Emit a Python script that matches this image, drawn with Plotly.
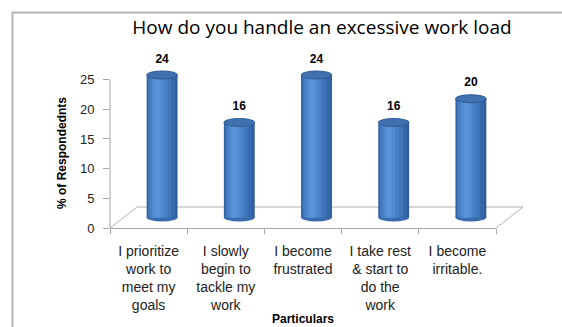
import plotly.graph_objects as go

# ---- data ----
categories = [
    "I prioritize<br>work to<br>meet my<br>goals",
    "I slowly<br>begin to<br>tackle my<br>work",
    "I become<br>frustrated",
    "I take rest<br>& start to<br>do the<br>work",
    "I become<br>irritable.",
]
values = [24, 16, 24, 16, 20]
y_ticks = [0, 5, 10, 15, 20, 25]

title_text = "How do you handle an excessive work load"
y_title = "% of Respondednts"
x_title = "Particulars"

# ---- layout geometry ----
W, H = 562, 327
L, R, T, B = 110, 66, 38, 99
PW, PH = W - L - R, H - T - B
YMAX = 32.0
n = len(categories)
cat_px = PW / n
unit_px = PH / YMAX
# 3D depth (full floor depth) in px
DEPTH_X, DEPTH_Y = 27, 21
# bars sit at half depth
dx = (DEPTH_X / 2) / cat_px
dy = (DEPTH_Y / 2) / unit_px

FONT = "Liberation Sans, Arial, sans-serif"
xs = list(range(n))

fig = go.Figure()

# cylinder bodies: layered bars for shading
BW = 0.40
layers = [
    (BW, 0.0, "#2f5d9a"),
    (0.36, -0.01, "#3669ab"),
    (0.30, -0.03, "#3f75b9"),
    (0.23, -0.045, "#4880c6"),
    (0.15, -0.055, "#518ad0"),
    (0.07, -0.06, "#5b93d8"),
]
for w, shift, col in layers:
    fig.add_trace(go.Bar(
        x=xs, y=values, xaxis="x2", yaxis="y2",
        width=[w] * n, offset=[-w / 2 + shift] * n,
        marker=dict(color=col, line=dict(width=0)),
        cliponaxis=False, showlegend=False, hoverinfo="skip",
    ))

# value labels
fig.add_trace(go.Scatter(
    x=xs, y=[v + 1.6 for v in values], xaxis="x2", yaxis="y2",
    mode="text", text=[str(v) for v in values], textposition="top center",
    textfont=dict(family=FONT, size=12, color="#000000", weight="bold"),
    cliponaxis=False, showlegend=False, hoverinfo="skip",
))

# a dummy trace on the main axes so category axis exists
fig.add_trace(go.Scatter(x=categories, y=[None] * n, mode="markers",
                         showlegend=False, hoverinfo="skip"))

shapes = []
cap_h = 4.0 / unit_px  # half height of ellipse in data units
for i, v in enumerate(values):
    # bottom ellipse (below bars)
    shapes.append(dict(type="circle", xref="x2", yref="y2", layer="below",
                       x0=i - BW / 2, x1=i + BW / 2, y0=-cap_h, y1=cap_h,
                       fillcolor="#3a6cae", line=dict(width=0)))
    # top ellipse
    shapes.append(dict(type="circle", xref="x2", yref="y2", layer="above",
                       x0=i - BW / 2, x1=i + BW / 2, y0=v - cap_h, y1=v + cap_h,
                       fillcolor="#4070b0", line=dict(color="#2f5c98", width=1)))

# floor (3D base)
ax = DEPTH_X / PW
ay = DEPTH_Y / PH
shapes.append(dict(type="path", xref="paper", yref="paper", layer="below",
                   path=f"M 0 0 L {ax} {ay} L {1 + ax} {ay} L 1 0",
                   line=dict(color="#b0b0b0", width=1)))
# y axis line (0..25)
shapes.append(dict(type="line", xref="paper", yref="y", layer="below",
                   x0=0, x1=0, y0=y_ticks[0], y1=y_ticks[-1],
                   line=dict(color="#a6a6a6", width=1)))
# chart outer border
shapes.append(dict(type="rect", xref="paper", yref="paper", layer="below",
                   x0=(12.5 - L) / PW, x1=(W + 20 - L) / PW,
                   y0=-(B + 20) / PH, y1=(H - B - 12.5) / PH,
                   line=dict(color="#b3b3b3", width=2), fillcolor="rgba(0,0,0,0)"))

annotations = [
    dict(text=y_title, xref="paper", yref="paper",
         x=(62 - L) / PW, y=(H - B - 153) / PH, textangle=-90, showarrow=False,
         font=dict(family=FONT, size=12, color="#000000", weight="bold"),
         xanchor="center", yanchor="middle"),
    dict(text=x_title, xref="paper", yref="paper",
         x=0.5, y=(H - B - 319) / PH, showarrow=False,
         font=dict(family=FONT, size=12, color="#000000", weight="bold"),
         xanchor="center", yanchor="middle"),
]

fig.update_layout(
    width=W, height=H,
    margin=dict(l=L, r=R, t=T, b=B),
    paper_bgcolor="white", plot_bgcolor="white",
    barmode="overlay",
    title=dict(text=title_text, x=322 / W, xanchor="center",
               y=1 - 27 / H, yanchor="middle",
               font=dict(family="Open Sans, sans-serif", size=19, color="#000000",
                         weight=500)),
    xaxis=dict(type="category", categoryorder="array", categoryarray=categories,
               range=[-0.5, n - 0.5], tickson="boundaries", ticks="outside",
               ticklen=5, tickcolor="#a6a6a6", showline=True, linecolor="#a6a6a6",
               showgrid=False, zeroline=False, fixedrange=True,
               ticklabelstandoff=10,
               tickfont=dict(family=FONT, size=14, color="#222222")),
    yaxis=dict(range=[0, YMAX], tickvals=y_ticks, ticks="outside", ticklen=6,
               tickcolor="#a6a6a6", showline=False, showgrid=False, zeroline=False,
               ticklabelstandoff=6,
               tickfont=dict(family=FONT, size=13, color="#222222")),
    xaxis2=dict(overlaying="x", range=[-0.5 - dx, n - 0.5 - dx], visible=False),
    yaxis2=dict(overlaying="y", range=[-dy, YMAX - dy], visible=False),
    shapes=shapes,
    annotations=annotations,
)

fig.write_html("out.html")
